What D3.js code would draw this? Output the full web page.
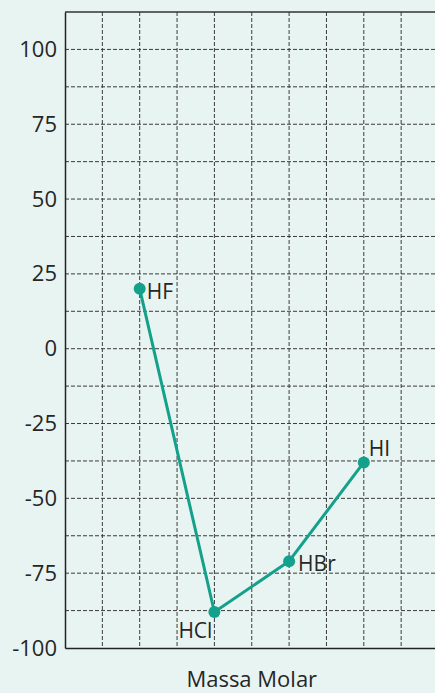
<!DOCTYPE html>
<html>
<head>
<meta charset="utf-8">
<script src="https://cdn.jsdelivr.net/npm/d3@7"></script>
<style>
	html, body { margin: 0; padding: 0; background: #e8f4f2; }
	svg { display: block; }
</style>
</head>
<body>
<figure id="chart" style="margin:0"></figure>
<script>
// data
const compounds = ["HF", "HCl", "HBr", "HI"];
const positions = [2, 4, 6, 8];
const boilingPoints = [20, -88, -71, -38];
const yTicks = [100, 75, 50, 25, 0, -25, -50, -75, -100];
const xLabel = "Massa Molar";

const width = 435, height = 693;
const margin = { top: 12, left: 65 };
const plotW = 373.5, plotH = 636;
const font = "'Open Sans', sans-serif";
const teal = "#14a18b";
const textColor = "#262626";

const svg = d3.select("figure#chart").append("svg")
	.attr("width", width).attr("height", height);

const g = svg.append("g").attr("transform", "translate(" + margin.left + "," + margin.top + ")");

const xScale = d3.scaleLinear().domain([0, 10]).range([0, plotW]);
const yScale = d3.scaleLinear().domain([-100, 112.5]).range([plotH, 0]);

// grid
const gridX = d3.range(1, 11);
const gridY = d3.range(-87.5, 113, 12.5);
g.selectAll("line.gx").data(gridX).enter().append("line")
	.attr("class", "gx")
	.attr("x1", (d) => xScale(d)).attr("x2", (d) => xScale(d))
	.attr("y1", 0).attr("y2", plotH)
	.attr("stroke", "#3a3a3a").attr("stroke-width", 1)
	.attr("stroke-dasharray", "4,2");
g.selectAll("line.gy").data(gridY.filter((d) => d < 112.5)).enter().append("line")
	.attr("class", "gy")
	.attr("x1", 0).attr("x2", plotW)
	.attr("y1", (d) => yScale(d)).attr("y2", (d) => yScale(d))
	.attr("stroke", "#3a3a3a").attr("stroke-width", 1)
	.attr("stroke-dasharray", "4,2");

// top border
g.append("line").attr("x1", 0).attr("x2", plotW).attr("y1", yScale(112.5)).attr("y2", yScale(112.5))
	.attr("stroke", "#333").attr("stroke-width", 1.5);

// Y axis
const yAxis = g.append("g").call(d3.axisLeft(yScale).tickValues(yTicks).tickSize(0).tickPadding(8)
	.tickFormat((d) => String(d)));
yAxis.select(".domain").attr("stroke", "#222").attr("stroke-width", 1.5);
yAxis.selectAll(".tick text").attr("font-family", font).attr("font-size", 22).attr("fill", textColor);

// X axis (no labels)
const xAxis = g.append("g").attr("transform", "translate(0," + plotH + ")")
	.call(d3.axisBottom(xScale).tickValues([]).tickSize(0));
xAxis.select(".domain").attr("stroke", "#222").attr("stroke-width", 1.5);

svg.append("text")
	.attr("x", margin.left + xScale(5)).attr("y", 687)
	.attr("text-anchor", "middle")
	.attr("font-family", font).attr("font-size", 22).attr("fill", textColor)
	.text(xLabel);

// series
const points = compounds.map((c, i) => ({ name: c, x: positions[i], y: boilingPoints[i] }));
const line = d3.line().x((d) => xScale(d.x)).y((d) => yScale(d.y));
g.append("path").datum(points).attr("d", line)
	.attr("fill", "none").attr("stroke", teal).attr("stroke-width", 3);
g.selectAll("circle.pt").data(points).enter().append("circle")
	.attr("class", "pt")
	.attr("cx", (d) => xScale(d.x)).attr("cy", (d) => yScale(d.y))
	.attr("r", 6).attr("fill", teal);

// labels next to the points
const labelOffsets = {
	HF: { dx: 7, dy: 10, anchor: "start" },
	HCl: { dx: -2, dy: 26, anchor: "end" },
	HBr: { dx: 9, dy: 10, anchor: "start" },
	HI: { dx: 5, dy: -6, anchor: "start" }
};
g.selectAll("text.lbl").data(points).enter().append("text")
	.attr("class", "lbl")
	.attr("x", (d) => xScale(d.x) + labelOffsets[d.name].dx)
	.attr("y", (d) => yScale(d.y) + labelOffsets[d.name].dy)
	.attr("text-anchor", (d) => labelOffsets[d.name].anchor)
	.attr("font-family", font).attr("font-size", 21).attr("fill", textColor)
	.text((d) => d.name);
</script>
</body>
</html>
